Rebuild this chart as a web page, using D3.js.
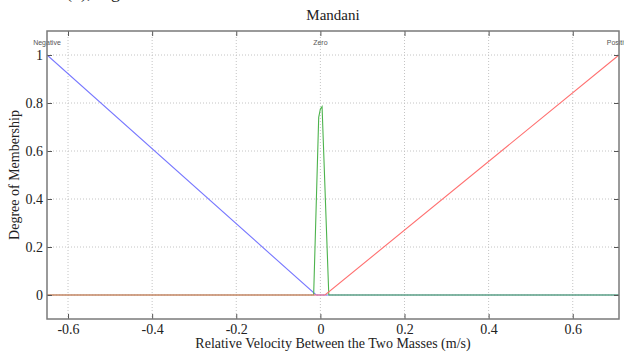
<!DOCTYPE html>
<head>
<meta charset="utf-8">
<title>Mandani</title>
<script src="https://d3js.org/d3.v7.min.js"></script>
<style>
body { margin: 0; background: #fff; }
svg { display: block; }
.grid line { stroke: #c4c4c4; stroke-width: 1; stroke-dasharray: 1,2; }
.mf { fill: none; stroke-width: 1.1; }
.mf-label { font-family: "Liberation Sans", Arial, sans-serif; font-size: 7px; fill: #555; text-anchor: middle; }
.serif { font-family: "Liberation Serif", "Times New Roman", serif; fill: #222; }
</style>
</head>
<body>
<div id="container"></div>
<script>
// data
const xTicks = [-0.6, -0.4, -0.2, 0, 0.2, 0.4, 0.6];
const yTicks = [0, 0.2, 0.4, 0.6, 0.8, 1];
const negX = [-0.65, -0.01, 0.71];
const negY = [1, 0, 0];
const zeroX = [-0.65, -0.016, -0.004, 0.0, 0.004, 0.02, 0.71];
const zeroY = [0, 0, 0.74, 0.775, 0.785, 0, 0];
const posX = [-0.65, 0.011, 0.71];
const posY = [0, 0, 1];
const mfNames = ["Negative", "Zero", "Positive"];
const mfPeaks = [-0.65, 0, 0.71];

const width = 624, height = 353;
const pLeft = 47, pRight = 619, pTop = 31, pBottom = 319;

const svg = d3.select("#container").append("svg")
    .attr("width", width)
    .attr("height", height);

const x = d3.scaleLinear().domain([-0.65, 0.71]).range([pLeft, pRight]);
const y = d3.scaleLinear().domain([-0.1, 1.1]).range([pBottom, pTop]);

// cut-off caption from the page above
svg.append("text").attr("class", "serif")
    .attr("x", 66).attr("y", -2).style("font-size", "18px")
    .text("(b), Fig");

// grid
svg.append("g").attr("class", "grid")
    .selectAll("line").data(xTicks).enter().append("line")
    .attr("x1", d => x(d)).attr("x2", d => x(d))
    .attr("y1", pTop).attr("y2", pBottom);
svg.append("g").attr("class", "grid")
    .selectAll("line").data(yTicks).enter().append("line")
    .attr("x1", pLeft).attr("x2", pRight)
    .attr("y1", d => y(d)).attr("y2", d => y(d));

// clip for the lines
svg.append("clipPath").attr("id", "plot")
    .append("rect").attr("x", pLeft).attr("y", pTop)
    .attr("width", pRight - pLeft).attr("height", pBottom - pTop);

const line = d3.line().x(d => x(d[0])).y(d => y(d[1]));
const plot = svg.append("g").attr("clip-path", "url(#plot)");

const series = [
    {pts: d3.zip(negX, negY), color: "#7878ff"},
    {pts: d3.zip(zeroX, zeroY), color: "#4db34d"},
    {pts: d3.zip(posX, posY), color: "#ff7070"}
];
plot.selectAll(".mf").data(series).enter().append("path")
    .attr("class", "mf")
    .attr("stroke", d => d.color)
    .attr("d", d => line(d.pts));

svg.selectAll(".mf-label").data(mfNames).enter().append("text")
    .attr("class", "mf-label")
    .attr("x", (d, i) => x(mfPeaks[i]))
    .attr("y", y(1) - 10)
    .text(d => d);

// axes
const axisColor = "#7a7a7a";
function styleAxis(g) {
    g.select(".domain").remove();
    g.selectAll(".tick line").attr("stroke", "#555").attr("stroke-width", 1);
    g.selectAll(".tick text")
        .style("font-family", "'Liberation Serif', 'Times New Roman', serif")
        .style("font-size", "14px")
        .style("fill", "#222");
}
const fmt = d => String(d);
svg.append("g")
    .attr("transform", "translate(0," + pBottom + ")")
    .call(d3.axisBottom(x).tickValues(xTicks).tickSize(-5).tickPadding(5)
        .tickFormat(fmt))
    .call(styleAxis);
svg.append("g")
    .attr("transform", "translate(0," + pTop + ")")
    .call(d3.axisTop(x).tickValues(xTicks).tickSize(-5).tickFormat(""))
    .call(styleAxis);
svg.append("g")
    .attr("transform", "translate(" + pLeft + ",0)")
    .call(d3.axisLeft(y).tickValues(yTicks).tickSize(-5).tickPadding(4)
        .tickFormat(fmt))
    .call(styleAxis);
svg.append("g")
    .attr("transform", "translate(" + pRight + ",0)")
    .call(d3.axisRight(y).tickValues(yTicks).tickSize(-5).tickFormat(""))
    .call(styleAxis);

svg.append("rect")
    .attr("x", pLeft).attr("y", pTop)
    .attr("width", pRight - pLeft).attr("height", pBottom - pTop)
    .attr("fill", "none").attr("stroke", axisColor).attr("stroke-width", 1.5);

// titles
svg.append("text").attr("class", "serif")
    .attr("x", (pLeft + pRight) / 2).attr("y", 20)
    .attr("text-anchor", "middle").style("font-size", "15px")
    .text("Mandani");
svg.append("text").attr("class", "serif")
    .attr("x", (pLeft + pRight) / 2).attr("y", 348)
    .attr("text-anchor", "middle").style("font-size", "14px")
    .text("Relative Velocity Between the Two Masses (m/s)");
svg.append("text").attr("class", "serif")
    .attr("transform", "translate(19," + (pTop + pBottom) / 2 + ") rotate(-90)")
    .attr("text-anchor", "middle").style("font-size", "14px")
    .text("Degree of Membership");
</script>
</body>
